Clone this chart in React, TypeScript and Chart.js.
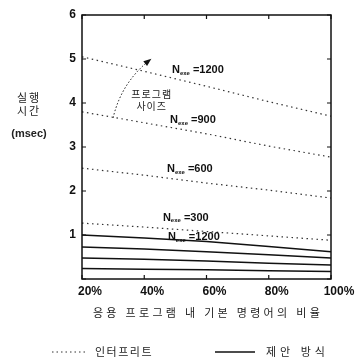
import React, { useEffect, useRef } from "react";
import { Chart, registerables } from "chart.js";

Chart.register(...registerables);

const xValues = [20, 40, 60, 80, 100];
const xTicks = [20, 40, 60, 80, 100];
const yTicks = [0, 1, 2, 3, 4, 5, 6];

// Interpreter (dotted) series
const interp1200 = [5.05, 4.72, 4.38, 4.03, 3.7];
const interp900 = [3.8, 3.55, 3.3, 3.02, 2.77];
const interp600 = [2.52, 2.36, 2.18, 2.02, 1.84];
const interp300 = [1.27, 1.18, 1.08, 0.98, 0.88];

// Proposed method (solid) series
const prop1200 = [1.0, 0.93, 0.85, 0.74, 0.62];
const prop900 = [0.73, 0.68, 0.62, 0.55, 0.48];
const prop600 = [0.48, 0.45, 0.41, 0.36, 0.32];
const prop300 = [0.24, 0.22, 0.21, 0.19, 0.17];

// Annotation labels (data coordinates)
const nLabels = [
  { x: 48.9, y: 4.75, text: "=1200" },
  { x: 48.3, y: 3.61, text: "=900" },
  { x: 47.3, y: 2.5, text: "=600" },
  { x: 46.0, y: 1.39, text: "=300" },
  { x: 47.6, y: 0.95, text: "=1200" },
];
const arrowTail = { x: 30, y: 3.66 };
const arrowHead = { x: 41.8, y: 4.98 };
const sizeLabel = ["프로그램", "사이즈"];
const yTitle = ["실행", "시간", "(msec)"];
const xTitle = "응용 프로그램 내 기본 명령어의 비율";
const legendLabels = ["인터프리트", "제안 방식"];

const SANS = "'Liberation Sans', Arial, sans-serif";
const KR = "'Noto Sans CJK KR', sans-serif";

const toPts = (ys: number[]) => ys.map((y, i) => ({ x: xValues[i], y }));

const overlay = {
  id: "overlay",
  afterDraw(chart: any) {
    const { ctx, chartArea, scales } = chart;
    const { left, right, top, bottom } = chartArea;
    const xs = scales.x;
    const ys = scales.y;
    ctx.save();
    ctx.strokeStyle = "#111";
    ctx.lineWidth = 1.5;
    ctx.strokeRect(left, top, right - left, bottom - top);
    ctx.lineWidth = 1.2;
    ctx.beginPath();
    yTicks.forEach((v) => {
      const py = ys.getPixelForValue(v);
      ctx.moveTo(left, py);
      ctx.lineTo(left + 4, py);
      ctx.moveTo(right, py);
      ctx.lineTo(right - 4, py);
    });
    xTicks.forEach((v) => {
      const px = xs.getPixelForValue(v);
      ctx.moveTo(px, bottom);
      ctx.lineTo(px, bottom - 4);
      ctx.moveTo(px, top);
      ctx.lineTo(px, top + 4);
    });
    ctx.stroke();

    // N labels
    ctx.fillStyle = "#111";
    ctx.textBaseline = "middle";
    ctx.textAlign = "left";
    nLabels.forEach((l) => {
      let px = xs.getPixelForValue(l.x);
      const py = ys.getPixelForValue(l.y);
      ctx.font = `bold 11px ${SANS}`;
      ctx.fillText("N", px, py);
      px += ctx.measureText("N").width;
      ctx.font = `bold 6px ${SANS}`;
      ctx.fillText("exe", px, py + 3);
      px += ctx.measureText("exe").width + 3;
      ctx.font = `bold 11px ${SANS}`;
      ctx.fillText(l.text, px, py);
    });

    // arrow
    const tx = xs.getPixelForValue(arrowTail.x);
    const ty = ys.getPixelForValue(arrowTail.y);
    const hx = xs.getPixelForValue(arrowHead.x);
    const hy = ys.getPixelForValue(arrowHead.y);
    ctx.setLineDash([1.5, 2]);
    ctx.lineWidth = 1;
    ctx.beginPath();
    ctx.moveTo(tx, ty);
    ctx.quadraticCurveTo(tx + 8, (ty + hy) / 2 - 6, hx, hy);
    ctx.stroke();
    ctx.setLineDash([]);
    const ang = Math.atan2(hy - ((ty + hy) / 2 - 6), hx - (tx + 8));
    ctx.beginPath();
    ctx.moveTo(hx + 2 * Math.cos(ang), hy + 2 * Math.sin(ang));
    ctx.lineTo(hx - 6 * Math.cos(ang) + 3 * Math.sin(ang), hy - 6 * Math.sin(ang) - 3 * Math.cos(ang));
    ctx.lineTo(hx - 6 * Math.cos(ang) - 3 * Math.sin(ang), hy - 6 * Math.sin(ang) + 3 * Math.cos(ang));
    ctx.closePath();
    ctx.fill();

    ctx.textAlign = "center";
    ctx.font = `10px ${KR}`;
    ctx.fillStyle = "#222";
    (ctx as any).letterSpacing = "1px";
    ctx.fillText(sizeLabel[0], xs.getPixelForValue(42.4), ys.getPixelForValue(4.2));
    ctx.fillText(sizeLabel[1], xs.getPixelForValue(42.4), ys.getPixelForValue(3.92));

    // y title
    ctx.font = `11px ${KR}`;
    (ctx as any).letterSpacing = "2px";
    ctx.fillText(yTitle[0], 29, 98);
    ctx.fillText(yTitle[1], 29, 111);
    (ctx as any).letterSpacing = "0px";
    ctx.font = `bold 11px ${SANS}`;
    ctx.fillText(yTitle[2], 29, 134);

    // x title
    ctx.font = `11px ${KR}`;
    (ctx as any).letterSpacing = "3.3px";
    ctx.fillText(xTitle, 208, 313);

    // legend
    ctx.textAlign = "left";
    (ctx as any).letterSpacing = "1.5px";
    ctx.fillText(legendLabels[0], 95, 352);
    (ctx as any).letterSpacing = "4px";
    ctx.fillText(legendLabels[1], 266, 352);
    (ctx as any).letterSpacing = "0px";
    ctx.strokeStyle = "#333";
    ctx.lineWidth = 1;
    ctx.setLineDash([1.5, 3]);
    ctx.beginPath();
    ctx.moveTo(52, 352);
    ctx.lineTo(88, 352);
    ctx.stroke();
    ctx.setLineDash([]);
    ctx.strokeStyle = "#111";
    ctx.lineWidth = 1.3;
    ctx.beginPath();
    ctx.moveTo(215, 352);
    ctx.lineTo(255, 352);
    ctx.stroke();
    ctx.restore();
  },
};

export default function App() {
  const ref = useRef<HTMLCanvasElement | null>(null);
  useEffect(() => {
    if (!ref.current) return;
    const dotted = (ys: number[]) => ({
      data: toPts(ys),
      borderColor: "#333",
      borderWidth: 1.2,
      borderDash: [1.5, 3.5],
      pointRadius: 0,
      tension: 0,
      fill: false,
    });
    const solid = (ys: number[]) => ({
      data: toPts(ys),
      borderColor: "#111",
      borderWidth: 1.5,
      pointRadius: 0,
      tension: 0,
      fill: false,
    });
    const chart = new Chart(ref.current, {
      type: "line",
      data: {
        datasets: [
          dotted(interp1200),
          dotted(interp900),
          dotted(interp600),
          dotted(interp300),
          solid(prop1200),
          solid(prop900),
          solid(prop600),
          solid(prop300),
        ],
      },
      options: {
        responsive: false,
        animation: false,
        layout: { padding: { top: 15, right: 27, left: 0, bottom: 0 } },
        plugins: { legend: { display: false }, tooltip: { enabled: false } },
        scales: {
          x: {
            type: "linear",
            min: 20,
            max: 100,
            afterBuildTicks: (s: any) => {
              s.ticks = xTicks.map((v) => ({ value: v }));
            },
            afterFit: (s: any) => {
              s.height = 81;
            },
            grid: { display: false, drawTicks: false },
            border: { display: false },
            ticks: {
              padding: 5,
              labelOffset: 8,
              color: "#111",
              font: { family: SANS, size: 12, weight: "bold" },
              callback: (v: any) => `${v}%`,
            },
          },
          y: {
            min: 0,
            max: 6,
            afterBuildTicks: (s: any) => {
              s.ticks = yTicks.map((v) => ({ value: v }));
            },
            afterFit: (s: any) => {
              s.width = 82;
            },
            grid: { display: false, drawTicks: false },
            border: { display: false },
            ticks: {
              padding: 6,
              color: "#111",
              font: { family: SANS, size: 12, weight: "bold" },
              callback: (v: any) => (v === 0 ? "" : `${v}`),
            },
          },
        },
      },
      plugins: [overlay],
    } as any);
    return () => chart.destroy();
  }, []);
  return (
    <div style={{ position: "absolute", left: 0, top: 0, width: 358, height: 360, background: "#fff" }}>
      <canvas ref={ref} width={358} height={360} />
    </div>
  );
}
